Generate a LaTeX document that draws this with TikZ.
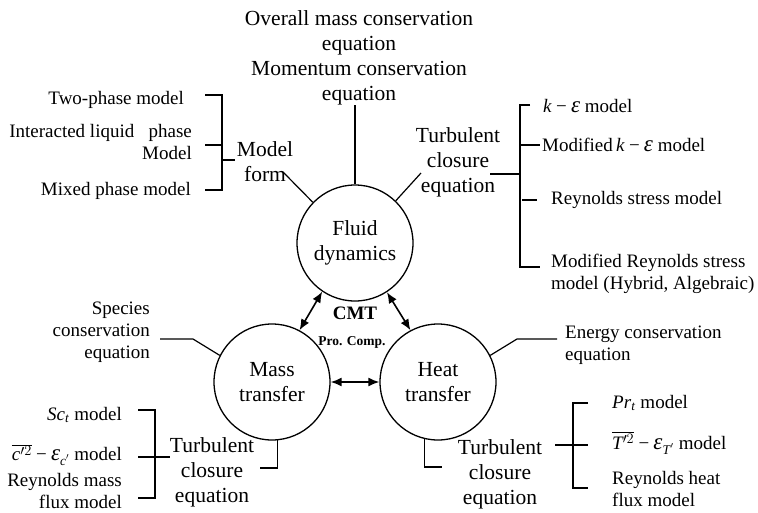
\documentclass[tikz,border=0pt]{standalone}
\usepackage{fontspec}
\setmainfont{Liberation Serif}
\usetikzlibrary{arrows.meta}

\tikzset{
  bigtxt/.style={font=\fontsize{21.5}{25}\selectfont, align=center, inner sep=0pt},
  smalltxt/.style={font=\fontsize{19}{22}\selectfont, inner sep=0pt},
  topic/.style={draw, circle, line width=1.3pt, minimum size=116pt, inner sep=0pt, bigtxt},
  link/.style={line width=1.2pt},
  twoway/.style={line width=1.6pt, {Latex[length=11pt,width=9pt]}-{Latex[length=11pt,width=9pt]}},
}
\def\eps{{\fontsize{23}{22}\selectfont\textit{ε}}}
\def\ke{\textit{k}\:−\:\eps}

\begin{document}
\begin{tikzpicture}[x=1pt,y=-1pt]
\useasboundingbox (0,0) rectangle (758,512);

% the three fields
\node[topic] (fluid) at (355,243) {Fluid\\dynamics};
\node[topic] (mass) at (272,382) {Mass\\transfer};
\node[topic] (heat) at (438,382) {Heat\\transfer};

\draw[twoway] (fluid.236) -- (mass.62);
\draw[twoway] (fluid.303) -- (heat.118);
\draw[twoway] (mass.east) -- (heat.west);

\node[font=\fontsize{19}{22}\selectfont\bfseries, inner sep=0pt] (cmt) at (355,313) {CMT};
\node[font=\fontsize{13.5}{16}\selectfont\bfseries, inner sep=0pt] (pro) at (352,342) {Pro. Comp.};

% fluid dynamics: conservation equations
\node[bigtxt] (eqs) at (359,58) {Overall mass conservation\\equation\\Momentum conservation\\equation};
\draw[link] (eqs.south -| fluid.north) -- (fluid.north);

% fluid dynamics: model form
\node[bigtxt] (form) at (265,162) {Model\\form};
\coordinate (formtip) at (283,172);
\draw[link] (formtip) -- (fluid.136);

\node[smalltxt, anchor=east] (twoph) at (184,100) {Two-phase model};
\node[smalltxt, anchor=east, align=right] (liqph) at (192,142) {Interacted liquid\ \ \ phase\\Model};
\node[smalltxt, anchor=east] (mixph) at (191,191) {Mixed phase model};
\coordinate (fb) at (222,95);
\draw[link] (205,95) -- (fb) -- (222,190) -- (205,190);
\draw[link] (205,145) -- (222,145);
\draw[link] (222,160) -- (235,160);

% fluid dynamics: turbulent closure
\node[bigtxt] (fturb) at (458,162) {Turbulent\\closure\\equation};
\coordinate (fturbtip) at (421,173);
\draw[link] (fluid.46) -- (fturbtip);
\draw[link] (490,174) -- (520,174);
\draw[link] (530,105) -- (520,105) -- (520,267) -- (540,267);
\draw[link] (520,145) -- (540,145);
\draw[link] (522,200) -- (537,200);

\node[smalltxt, anchor=west] (ke) at (543,106) {\ke\ model};
\node[smalltxt, anchor=west] (mke) at (542,145) {Modified\,\ke\ model};
\node[smalltxt, anchor=west] (rsm) at (551,200) {Reynolds stress model};
\node[smalltxt, anchor=west, align=left] (mrsm) at (551,274) {Modified Reynolds stress\\model (Hybrid, Algebraic)};

% mass transfer
\node[smalltxt, anchor=east, align=right] (spec) at (150,332) {Species\\conservation\\equation};
\draw[link] (160,339) -- (193,339) -- (mass.153);

\node[bigtxt] (mturb) at (212,472) {Turbulent\\closure\\equation};
\draw[link] (mass.-85) |- (260,468);
\draw[link] (138,410) -- (155,410) -- (155,498) -- (138,498);
\draw[link] (138,457) -- (170,457);

\node[smalltxt, anchor=east] (sct) at (122,415) {\textit{Sc}\textsubscript{\textit{t}} model};
\node[smalltxt, anchor=east] (cvar) at (122,455) {$\overline{\mbox{\itshape c}'^{2}}$\:−\:\eps\textsubscript{\textit{c}$'$} model};
\node[smalltxt, anchor=east, align=right] (rmf) at (122,491) {Reynolds mass\\flux model};

% heat transfer
\node[smalltxt, anchor=west, align=left] (energy) at (565,345) {Energy conservation\\equation};
\draw[link] (heat.27) -- (517,339) -- (557,339);

\node[bigtxt] (hturb) at (500,474) {Turbulent\\closure\\equation};
\draw[link] (heat.-103) |- (442,467);
\draw[link] (555,445) -- (588,445);
\draw[link] (588,403) -- (573,403) -- (573,488) -- (588,488);

\node[smalltxt, anchor=west] (prt) at (612,403) {\textit{Pr}\textsubscript{\textit{t}} model};
\node[smalltxt, anchor=west] (tvar) at (612,443) {$\overline{\mbox{\itshape T}'^{2}}$\:−\:\eps\textsubscript{\textit{T}$'$} model};
\node[smalltxt, anchor=west, align=left] (rhf) at (612,489) {Reynolds heat\\flux model};

\end{tikzpicture}
\end{document}
